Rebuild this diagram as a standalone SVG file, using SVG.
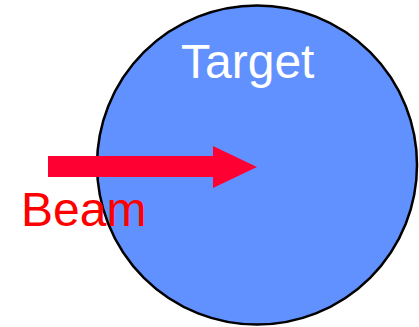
<svg xmlns="http://www.w3.org/2000/svg" width="419" height="327" viewBox="0 0 419 327">
<style>
.lbl{font-family:"Liberation Sans",Arial,sans-serif;font-size:48px}
</style>
<rect width="419" height="327" fill="#ffffff"/>
<g id="target">
<ellipse cx="257" cy="165" rx="160" ry="159.5" fill="#6191FF" stroke="#000000" stroke-width="2.5"/>
<text class="lbl" x="181" y="78" fill="#ffffff">Target</text>
</g>
<g id="connectors">
<polygon points="48,156 213,156 213,146 257,167 213,188 213,177 48,177" fill="#FF0033"/>
</g>
<g id="beam">
<text class="lbl" x="21" y="226" fill="#FF0000">Beam</text>
</g>
</svg>
